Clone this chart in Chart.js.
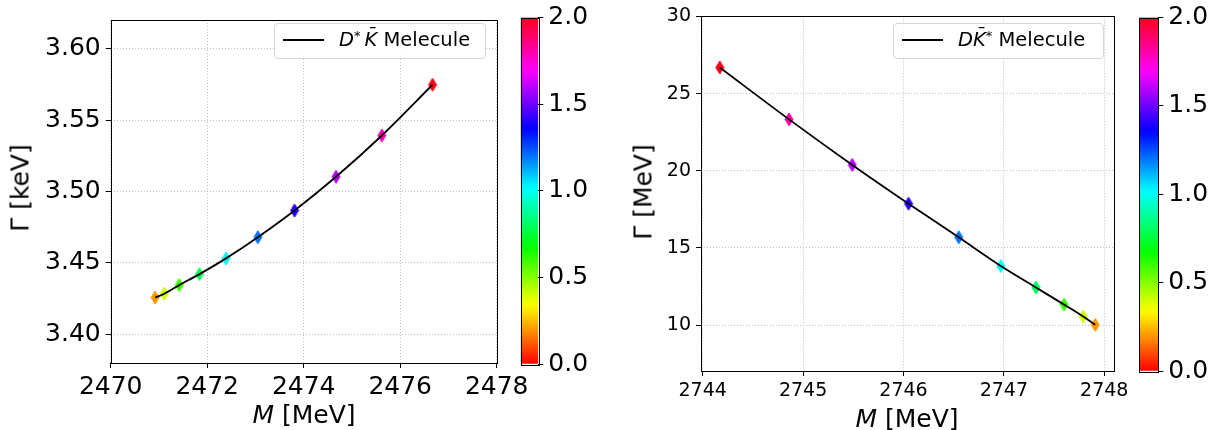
<!DOCTYPE html>
<html>
<head>
<meta charset="utf-8">
<script src="https://cdn.jsdelivr.net/npm/chart.js@4.4.0/dist/chart.umd.min.js"></script>
<style>
  body { margin: 0; background: #fff; }
  #wrap { position: relative; width: 1220px; height: 430px; overflow: hidden; font-family: "DejaVu Sans", sans-serif; color: #000; }
  .box { position: absolute; top: 0; height: 430px; }
  .lab { position: absolute; font-size: 25px; line-height: 1; white-space: nowrap; transform: translate(-50%, -50%); }
  .rot { transform: translate(-50%, -50%) rotate(-90deg); }
  .leg { position: absolute; box-sizing: border-box; border: 1px solid #d6d6d6; border-radius: 4px; background: rgba(255,255,255,0.85); }
  .leg .ln { position: absolute; top: 15px; width: 41px; height: 2px; background: #000; }
  .leg .tx { position: absolute; top: 6px; font-size: 19.5px; line-height: 1; white-space: nowrap; }
  .leg sup { font-size: 13px; vertical-align: 6px; line-height: 0; }
</style>
</head>
<body>
<div id="wrap">
  <div class="box" style="left:0;width:560px"><canvas id="leftMain" width="560" height="430"></canvas></div>
  <div class="box" style="left:600px;width:620px"><canvas id="rightMain" width="620" height="430"></canvas></div>
  <div class="box" style="left:500px;width:120px"><canvas id="leftBar" width="120" height="430"></canvas></div>
  <div class="box" style="left:1120px;width:100px"><canvas id="rightBar" width="100" height="430"></canvas></div>

  <div class="lab rot" style="left:20px;top:188px">Γ [keV]</div>
  <div class="lab" style="left:304px;top:414px"><i>M</i> [MeV]</div>
  <div class="lab rot" style="left:643px;top:192px">Γ [MeV]</div>
  <div class="lab" style="left:907px;top:418px"><i>M</i> [MeV]</div>

  <div class="leg" style="left:274px;top:23px;width:212px;height:36px">
    <span class="ln" style="left:8px"></span>
    <span class="tx" style="left:64px"><i>D</i><sup>*</sup>&#8201;<i>K&#772;</i> Melecule</span>
  </div>
  <div class="leg" style="left:893px;top:23px;width:211px;height:36px">
    <span class="ln" style="left:8px"></span>
    <span class="tx" style="left:64px"><i>D</i><i>K&#772;</i><sup>*</sup> Melecule</span>
  </div>
</div>

<script>
// colour parameter of each point (colorbar value)
const paramVals = [0.2, 0.4, 0.6, 0.8, 1.0, 1.2, 1.4, 1.6, 1.8, 2.0];

// D* Kbar molecule
const massDsK  = [2470.92, 2471.11, 2471.42, 2471.84, 2472.39, 2473.05, 2473.81, 2474.67, 2475.62, 2476.67];
const widthDsK = [3.4258, 3.4285, 3.4345, 3.4422, 3.4532, 3.4680, 3.4867, 3.5103, 3.5392, 3.5747];

// D Kbar* molecule
const massDKs  = [2747.91, 2747.79, 2747.60, 2747.32, 2746.97, 2746.55, 2746.05, 2745.49, 2744.86, 2744.17];
const widthDKs = [10.02, 10.56, 11.33, 12.44, 13.83, 15.69, 17.87, 20.38, 23.33, 26.69];

const leftXTicks  = [2470, 2472, 2474, 2476, 2478];
const leftYTicks  = [3.40, 3.45, 3.50, 3.55, 3.60];
const rightXTicks = [2744, 2745, 2746, 2747, 2748];
const rightYTicks = [10, 15, 20, 25, 30];
const cbarTicks   = [0.0, 0.5, 1.0, 1.5, 2.0];

// matplotlib "hsv" colormap
const hsvSeg = {
  r: [[0,1],[0.15873,1],[0.174603,0.96875],[0.333333,0.03125],[0.349206,0],[0.666667,0],[0.68254,0.03125],[0.84127,0.96875],[0.857143,1],[1,1]],
  g: [[0,0],[0.15873,0.9375],[0.174603,1],[0.507937,1],[0.666667,0.0625],[0.68254,0],[1,0]],
  b: [[0,0],[0.333333,0],[0.349206,0.0625],[0.507937,1],[0.84127,1],[0.857143,0.9375],[1,0.09375]]
};
function seg(arr, t) {
  for (let i = 1; i < arr.length; i++) {
    if (t <= arr[i][0]) {
      const [x0, y0] = arr[i-1], [x1, y1] = arr[i];
      return y0 + (y1 - y0) * (t - x0) / (x1 - x0);
    }
  }
  return arr[arr.length-1][1];
}
function hsv(t) {
  t = Math.max(0, Math.min(1, t));
  const c = v => Math.round(v * 255);
  return `rgb(${c(seg(hsvSeg.r, t))},${c(seg(hsvSeg.g, t))},${c(seg(hsvSeg.b, t))})`;
}
const cMin = cbarTicks[0], cMax = cbarTicks[cbarTicks.length-1];
const colorOf = v => hsv((v - cMin) / (cMax - cMin));

// thin diamond marker
function diamond(color) {
  const c = document.createElement('canvas');
  c.width = 10; c.height = 15;
  const g = c.getContext('2d');
  g.fillStyle = color; g.strokeStyle = color; g.lineWidth = 1;
  g.beginPath();
  g.moveTo(5, 1); g.lineTo(9, 7.5); g.lineTo(5, 14); g.lineTo(1, 7.5);
  g.closePath(); g.fill(); g.stroke();
  return c;
}
const markers = paramVals.map(v => diamond(colorOf(v)));

const frame = {
  id: 'frame',
  afterDraw(chart) {
    const { ctx, chartArea: a } = chart;
    ctx.save();
    ctx.strokeStyle = '#000';
    ctx.lineWidth = 1;
    ctx.strokeRect(Math.round(a.left) + 0.5, Math.round(a.top) + 0.5, Math.round(a.right - a.left), Math.round(a.bottom - a.top));
    ctx.restore();
  }
};

const gridOpts = { color: '#b0b0b0', lineWidth: 0.8, tickColor: '#000', tickLength: 5, tickWidth: 1 };
const border = { display: false, dash: [1, 2] };

function mainChart(id, xs, ys, xTicks, yTicks, xr, yr, yWidth, xHeight, padRight, tickSize, yDec) {
  const pts = xs.map((x, i) => ({ x, y: ys[i] }));
  const linePts = pts.slice().sort((a, b) => a.x - b.x);
  return new Chart(document.getElementById(id), {
    type: 'scatter',
    data: {
      datasets: [
        {
          type: 'line', data: linePts, borderColor: '#000', borderWidth: 1.8,
          pointRadius: 0, cubicInterpolationMode: 'monotone', fill: false, order: 0
        },
        {
          data: pts, pointStyle: ctx => markers[ctx.dataIndex], pointRadius: 6, order: 1
        }
      ]
    },
    options: {
      responsive: false,
      animation: false,
      layout: { padding: { top: 12.7, right: padRight, left: 0, bottom: 0 } },
      plugins: { legend: { display: false }, tooltip: { enabled: false } },
      scales: {
        x: {
          type: 'linear', min: xr[0], max: xr[1],
          afterBuildTicks: s => { s.ticks = xTicks.map(v => ({ value: v })); },
          afterFit: s => { s.height = xHeight; },
          grid: gridOpts, border,
          ticks: { color: '#000', padding: 4, font: { family: 'DejaVu Sans', size: tickSize[0] }, callback: v => String(v), maxRotation: 0 }
        },
        y: {
          type: 'linear', min: yr[0], max: yr[1],
          afterBuildTicks: s => { s.ticks = yTicks.map(v => ({ value: v })); },
          afterFit: s => { s.width = yWidth; },
          grid: gridOpts, border,
          ticks: { color: '#000', padding: 5, font: { family: 'DejaVu Sans', size: tickSize[1] }, callback: v => v.toFixed(yDec) }
        }
      }
    },
    plugins: [frame]
  });
}

mainChart('leftMain', massDsK, widthDsK, leftXTicks, leftYTicks,
  [2470, 2478], [3.38, 3.62], 110.7, 67, 63.3, [25, 25], 2);
mainChart('rightMain', massDKs, widthDKs, rightXTicks, rightYTicks,
  [2743.983, 2748.097], [7.03, 30], 101, 59, 106, [19, 19], 0);

function colorBar(id, padLeft, yWidth, padBottom) {
  return new Chart(document.getElementById(id), {
    type: 'bar',
    data: {
      labels: ['hsv'],
      datasets: [{
        data: [[cMin, cMax]],
        barPercentage: 1, categoryPercentage: 1, borderWidth: 0,
        backgroundColor: ctx => {
          const a = ctx.chart.chartArea;
          if (!a) return '#f00';
          const grad = ctx.chart.ctx.createLinearGradient(0, a.bottom, 0, a.top);
          for (let i = 0; i <= 60; i++) grad.addColorStop(i / 60, hsv(i / 60));
          return grad;
        }
      }]
    },
    options: {
      responsive: false,
      animation: false,
      layout: { padding: { top: 12.7, left: padLeft, right: 0, bottom: padBottom } },
      plugins: { legend: { display: false }, tooltip: { enabled: false } },
      scales: {
        x: { display: false },
        y: {
          position: 'right', min: cMin, max: cMax,
          afterBuildTicks: s => { s.ticks = cbarTicks.map(v => ({ value: v })); },
          afterFit: s => { s.width = yWidth; },
          grid: { drawOnChartArea: false, tickColor: '#000', tickLength: 5, tickWidth: 1 },
          border: { display: false },
          ticks: { color: '#000', padding: 5, font: { family: 'DejaVu Sans', size: 25, lineHeight: 1 }, callback: v => v.toFixed(1) }
        }
      }
    },
    plugins: [frame]
  });
}

colorBar('leftBar', 20.7, 81.7, 66);
colorBar('rightBar', 19.3, 61.7, 59);
</script>
</body>
</html>
